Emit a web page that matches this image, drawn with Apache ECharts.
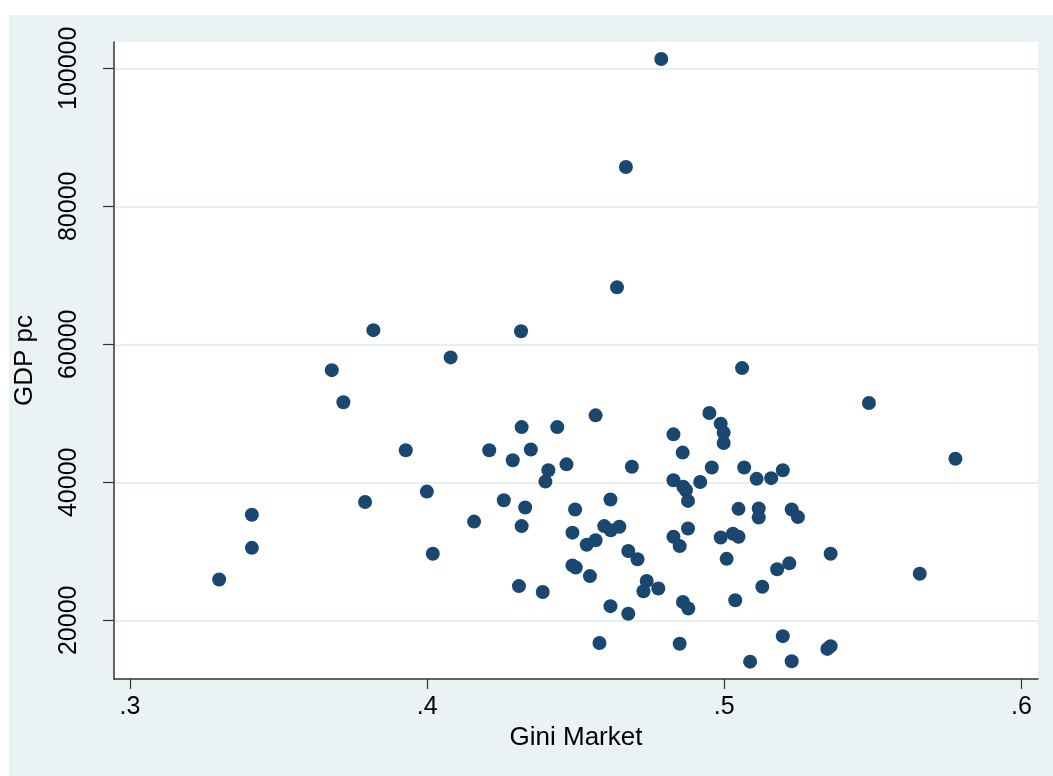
<!DOCTYPE html>
<html>
<head>
<meta charset="utf-8">
<script src="https://cdn.jsdelivr.net/npm/echarts@6/dist/echarts.min.js"></script>
<style>
  html, body { margin: 0; padding: 0; background: #fff; }
  #main { width: 1053px; height: 776px; }
</style>
</head>
<body>
<div id="main"></div>
<script>
// Gini (market) and GDP per capita
var gini = [
  0.3300, 0.3410, 0.3410, 0.3679, 0.3718, 0.3791, 0.3819, 0.3928, 0.3999, 0.4019,
  0.4079, 0.4158, 0.4209, 0.4258, 0.4288, 0.4309, 0.4316, 0.4318, 0.4318, 0.4330,
  0.4349, 0.4389, 0.4398, 0.4408, 0.4438, 0.4469, 0.4489, 0.4489, 0.4500, 0.4498,
  0.4537, 0.4548, 0.4567, 0.4567, 0.4580, 0.4596, 0.4617, 0.4618, 0.4617, 0.4647,
  0.4639, 0.4669, 0.4677, 0.4677, 0.4689, 0.4708, 0.4728, 0.4739, 0.4778, 0.4788,
  0.4829, 0.4829, 0.4829, 0.4850, 0.4850, 0.4860, 0.4862, 0.4871, 0.4861, 0.4878,
  0.4878, 0.4879, 0.4919, 0.4950, 0.4958, 0.4988, 0.4998, 0.4998, 0.4988, 0.5008,
  0.5029, 0.5037, 0.5048, 0.5048, 0.5060, 0.5067, 0.5087, 0.5109, 0.5116, 0.5116,
  0.5128, 0.5158, 0.5178, 0.5197, 0.5197, 0.5219, 0.5227, 0.5227, 0.5248, 0.5347,
  0.5358, 0.5358, 0.5487, 0.5658, 0.5778
];
var gdp = [
  25900, 30500, 35300, 56250, 51600, 37150, 62050, 44650, 38650, 29650,
  58100, 34300, 44650, 37400, 43200, 24950, 61900, 48000, 33650, 36350,
  44750, 24100, 40100, 41750, 48000, 42600, 32700, 27950, 27650, 36050,
  30950, 26400, 49700, 31600, 16700, 33650, 37500, 33050, 22050, 33550,
  68250, 85700, 30050, 20950, 42250, 28850, 24200, 25700, 24600, 101350,
  46950, 40300, 32100, 16600, 30750, 44300, 39350, 38850, 22650, 37300,
  33300, 21700, 40050, 50050, 42150, 48500, 47200, 45700, 32000, 28900,
  32550, 22900, 32100, 36150, 56550, 42150, 14000, 40500, 36200, 34900,
  24850, 40600, 27400, 41750, 17700, 28250, 36050, 14050, 34950, 15850,
  16250, 29650, 51500, 26750, 43400
];
var xTicks = [0.3, 0.4, 0.5, 0.6];
var yTicks = [20000, 40000, 60000, 80000, 100000];

var points = gini.map(function (g, i) { return [g, gdp[i]]; });

var font = 'Liberation Sans, Arial, Helvetica, sans-serif';
var myChart = echarts.init(document.getElementById('main'));
myChart.setOption({
    backgroundColor: '#fff',
    animation: false,
    graphic: [{
        type: 'rect',
        left: 9, top: 15,
        shape: { width: 1044, height: 761 },
        style: { fill: '#eaf2f3' },
        z: -10
    }],
    grid: {
        left: 114, top: 42, right: 15, bottom: 97,
        show: true, backgroundColor: '#fff', borderWidth: 0
    },
    xAxis: {
        type: 'value',
        min: 0.2946, max: 0.6056,
        name: 'Gini Market',
        nameLocation: 'middle',
        nameGap: 40,
        nameTextStyle: { fontFamily: font, fontSize: 26, color: '#000' },
        axisLine: { lineStyle: { color: '#333', width: 1.5 } },
        axisTick: { customValues: xTicks, length: 10, lineStyle: { color: '#333', width: 1.2 } },
        axisLabel: {
            customValues: xTicks,
            margin: 16,
            fontFamily: font, fontSize: 25, color: '#000',
            formatter: function (v) { return v.toFixed(1).replace(/^0/, ''); }
        },
        splitLine: { show: false }
    },
    yAxis: {
        type: 'value',
        min: 11488, max: 103814,
        name: 'GDP pc',
        nameLocation: 'middle',
        nameGap: 76,
        nameTextStyle: { fontFamily: font, fontSize: 26, color: '#000' },
        axisLine: { show: true, lineStyle: { color: '#333', width: 1.5 } },
        axisTick: { show: true, customValues: yTicks, length: 11, lineStyle: { color: '#333', width: 1.2 } },
        axisLabel: {
            customValues: yTicks,
            rotate: 90,
            margin: 32,
            fontFamily: font, fontSize: 25, color: '#000',
            formatter: function (v) { return String(v); }
        },
        splitLine: { show: true, lineStyle: { color: '#e6eff1', width: 2 } }
    },
    series: [{
        type: 'scatter',
        data: points,
        symbol: 'circle',
        symbolSize: 14,
        itemStyle: { color: '#1a476f', opacity: 1 }
    }]
});
</script>
</body>
</html>
